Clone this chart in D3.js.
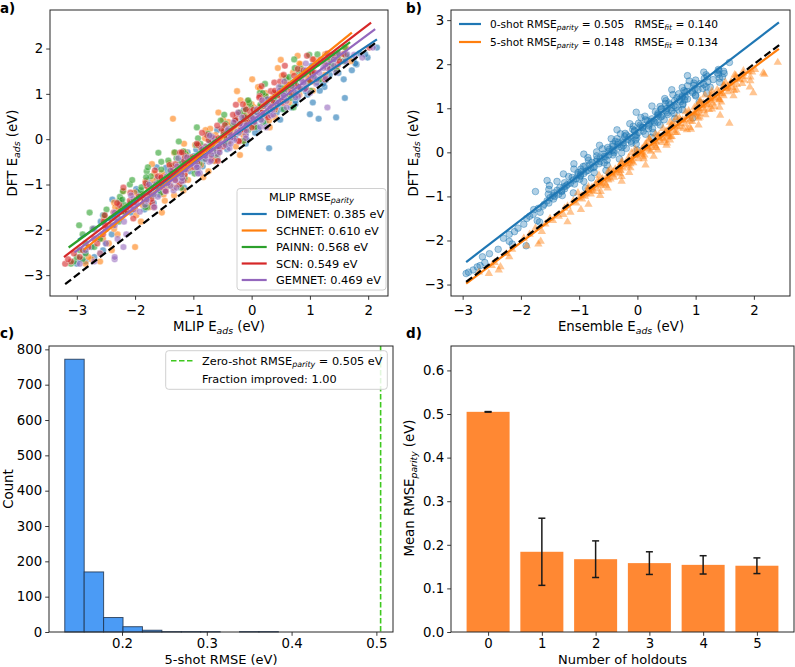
<!DOCTYPE html>
<html><head><meta charset="utf-8">
<script src="https://cdn.jsdelivr.net/npm/d3@7"></script>
<style>body{margin:0;background:#fff} svg text{font-family:"DejaVu Sans",sans-serif}</style>
</head><body>
<svg id="c" width="795" height="667"></svg>
<script>
// ---------------- DATA ----------------
// Panel a: DFT adsorption energies and each MLIP's prediction
const dftA = [-2.75,-2.70,-2.65,-2.60,-2.52,-2.45,-2.38,-2.30,-2.20,-2.10,
-1.98,-1.90,-1.82,-1.75,-1.68,-1.60,-1.55,-1.50,
-1.45,-1.40,-1.36,-1.32,-1.27,-1.22,-1.18,-1.13,-1.10,-1.06,-1.03,-1.00,
-0.97,-0.93,-0.90,-0.86,-0.82,-0.78,-0.75,-0.71,-0.67,-0.63,-0.60,-0.57,-0.53,-0.50,
-0.47,-0.44,-0.40,-0.37,-0.33,-0.30,-0.27,-0.23,-0.20,-0.16,-0.13,-0.09,-0.05,-0.02,
0.02,0.05,0.09,0.12,0.16,0.19,0.23,0.27,0.30,0.34,0.38,0.41,0.45,0.48,
0.52,0.55,0.59,0.62,0.66,0.70,0.73,0.77,0.80,0.84,0.88,0.91,0.95,0.98,
1.02,1.06,1.10,1.15,1.20,1.25,1.30,1.35,1.40,1.46,
1.55,1.65,1.75,1.86,2.02,
-1.62,-1.50,-1.41,-1.33,-1.24,-1.15,-1.07,-0.99,-0.91,-0.84,
-0.76,-0.69,-0.62,-0.55,-0.48,-0.42,-0.35,-0.29,-0.22,-0.16,
-0.10,-0.04,0.02,0.08,0.14,0.20,0.26,0.31,0.37,0.43,
0.48,0.54,0.59,0.65,0.70,0.76,0.81,0.86,0.92,0.97,
1.02,1.07,1.12,1.17,1.22,1.27,1.32,1.37,1.42,1.47,
1.52,1.57,1.62,1.67,1.72,1.76,1.80,1.84,1.87,1.89];
const predDimenet = [-3.0,-2.85,-2.95,-2.7,-2.85,-2.55,-2.75,-2.5,-2.6,-2.4,
-2.70,-2.38,-2.59,-2.29,-2.55,-2.22,-1.84,-2.28,
-2.10,-1.84,-2.24,-1.85,-1.93,-1.58,-1.93,-1.61,-1.98,-1.61,-1.39,-1.68,
-1.47,-1.52,-1.16,-1.62,-1.23,-1.38,-1.45,-1.06,-1.14,-1.47,-0.84,-1.16,-1.01,-0.84,
-1.19,-0.59,-0.92,-0.99,-0.70,-0.57,-0.73,-0.95,0.30,-0.55,-0.67,-0.40,-0.66,-0.08,
-0.42,-0.28,-0.48,-0.10,-0.47,-0.16,0.11,-0.17,0.07,-0.15,0.24,-0.28,1.15,1.45,
0.10,1.00,0.06,0.38,0.51,0.37,0.25,0.75,0.41,0.75,0.56,1.60,0.42,0.96,
0.76,0.93,0.72,1.25,0.75,1.13,1.27,1.07,1.04,1.49,
1.42,1.80,1.75,1.62,2.15,
-2.07,-2.26,-1.68,-2.39,-1.78,-1.97,-1.16,-1.55,-1.79,-1.22,
-1.37,-0.93,-1.63,-0.92,-0.63,-1.07,-0.78,-1.10,-0.42,-0.65,
-0.10,-0.72,-0.29,-0.46,0.06,-0.59,0.08,0.02,-0.18,0.49,
-0.14,0.23,0.43,-0.13,0.68,0.45,1.05,0.36,0.79,0.64,
0.39,1.17,0.93,0.78,1.23,0.74,1.58,1.07,1.34,1.04,
1.72,1.36,1.03,1.78,1.60,1.43,1.99,1.37,1.95,1.85];
const predSchnet = [-2.85,-2.6,-2.75,-2.8,-2.6,-2.4,-2.0,-2.45,-2.55,-2.3,
-2.36,-2.42,-1.90,-2.53,-1.98,-2.19,-2.28,-1.76,
-1.87,-2.36,-1.49,-1.95,-1.76,-1.51,-2.01,-1.17,-1.68,-1.78,-1.42,-1.25,
-1.50,-1.82,-1.09,-1.31,-1.50,-1.15,-1.54,-0.74,-1.24,-1.06,-1.37,-0.87,-1.41,-0.99,
-0.65,-1.07,-0.75,-1.10,-0.58,-1.33,-0.69,-0.76,-0.87,-0.27,-0.97,-0.55,-0.39,-0.62,
-0.80,-0.13,-0.62,-0.17,-0.47,-0.30,-0.71,0.03,-0.28,-0.07,-0.40,0.30,-1.35,0.03,
0.18,-0.15,-0.22,0.34,0.12,0.05,0.33,0.00,0.31,-0.07,0.52,0.36,0.23,0.82,
0.38,-0.25,0.69,0.11,0.61,0.97,0.60,0.96,0.52,0.92,
1.45,0.84,0.50,1.50,1.62,
-1.54,-2.34,-1.77,-2.02,-1.33,-2.20,-1.33,-1.41,-1.69,-0.83,
-1.67,-1.20,-0.94,-1.71,-0.64,-0.98,-0.20,-1.14,-0.59,-0.81,
-1.16,-0.14,-0.48,-0.70,-0.13,-0.79,0.31,-0.40,-0.06,-0.49,
0.40,-0.10,-0.57,0.40,0.13,-0.09,0.64,-0.19,0.58,0.47,
0.24,1.05,0.14,0.70,0.59,1.04,0.01,0.98,1.26,0.71,
1.00,0.45,1.30,0.82,1.70,1.07,1.35,0.79,1.26,1.59];
const predPainn = [-3.1,-3.05,-2.9,-3.0,-2.85,-2.95,-2.7,-2.85,-2.6,-2.9,
-2.73,-2.96,-2.28,-2.41,-2.53,-2.18,-2.49,-1.79,
-2.19,-2.02,-2.27,-1.81,-2.26,-1.88,-1.56,-1.90,-1.63,-1.89,-1.45,-2.09,
-1.53,-1.59,-2.05,-1.15,-1.73,-1.35,-1.22,-1.80,-1.55,-0.95,-1.37,-0.98,-1.23,-1.55,
-1.43,-0.80,-1.04,-0.87,-1.13,-1.60,-1.17,-0.74,-0.61,-0.88,-0.95,-0.45,-1.25,-0.68,
-0.43,-0.71,-0.42,-0.75,-0.23,-0.37,-0.46,0.06,-0.32,-0.45,-0.04,-0.53,-0.11,0.18,
-0.13,0.17,-0.20,0.12,0.55,-0.01,0.17,0.45,-0.04,0.41,0.28,0.67,0.24,0.58,
0.14,0.56,0.83,0.50,0.76,0.70,1.14,0.59,1.05,0.87,
0.85,1.37,1.33,0.99,1.60,
-2.78,-1.82,-2.07,-2.22,-1.68,-2.21,-1.21,-1.79,-1.46,-1.81,
-0.98,-1.40,-1.78,-0.90,-1.10,-1.29,-0.61,-1.32,-0.62,-0.69,
-0.88,-0.14,-0.92,-0.40,-0.48,-0.06,-0.94,-0.09,0.20,-0.27,
-0.01,-0.47,0.29,-0.10,0.72,0.15,0.42,-0.06,0.39,0.73,
0.19,1.01,0.51,0.70,0.23,0.98,1.17,0.64,1.04,0.81,
1.46,0.74,1.32,1.13,1.57,0.73,1.48,1.62,1.13,1.47];
const predScn = [-3.2,-3.1,-3.15,-2.95,-3.05,-2.9,-2.8,-2.65,-2.7,-2.55,
-2.50,-2.51,-2.54,-2.03,-2.52,-2.13,-2.00,-2.14,
-2.27,-1.71,-2.09,-1.72,-1.94,-1.77,-2.08,-1.48,-1.71,-1.54,-1.80,-1.24,
-1.82,-1.43,-1.31,-1.56,-1.61,-1.15,-1.32,-1.36,-1.12,-1.36,-1.11,-1.41,-0.93,-1.06,
-1.16,-0.69,-1.02,-1.15,-0.78,-1.23,-0.85,-0.56,-0.86,-0.58,-0.92,-0.62,-0.22,-0.74,
-0.57,-0.32,-0.77,-0.36,-0.48,-0.12,-0.52,-0.18,-0.59,-0.20,0.04,-0.28,-0.04,-0.12,
0.27,-0.25,0.16,-0.03,-0.10,0.32,0.21,-0.15,0.54,0.18,0.33,0.51,0.14,0.78,
0.40,0.33,0.64,0.80,0.63,0.39,1.00,0.85,0.73,1.03,
0.79,1.48,1.18,1.40,2.02,
-2.37,-1.68,-2.31,-1.84,-1.86,-1.47,-2.20,-1.43,-1.17,-1.55,
-1.29,-1.66,-0.99,-1.31,-0.58,-1.06,-0.81,-1.20,-0.79,-0.49,
-0.94,-0.22,-0.64,-0.46,-0.85,-0.19,0.00,-0.46,-0.10,-0.28,
0.28,-0.32,0.18,0.03,0.41,-0.27,0.38,0.52,0.13,0.45,
0.68,0.40,0.93,0.17,0.73,0.49,1.26,0.83,0.55,1.08,
0.89,1.30,0.57,1.25,1.51,1.05,1.30,0.95,1.58,1.30];
const predGemnet = [-2.95,-2.7,-2.35,-2.35,-2.6,-2.85,-2.2,-2.5,-2.3,-2.15,
-2.72,-2.35,-2.19,-2.35,-2.34,-1.92,-2.03,-2.04,
-1.83,-2.02,-1.80,-2.03,-1.61,-1.68,-1.75,-1.34,-1.62,-1.69,-1.39,-1.76,
-1.44,-1.20,-1.44,-1.19,-1.46,-1.20,-0.89,-1.30,-1.14,-0.92,-1.28,-0.95,-1.03,-0.73,
-1.05,-0.79,-1.11,-0.79,-0.59,-0.85,-0.65,-0.70,-0.38,-0.79,-0.45,-0.58,-0.63,-0.30,
-0.36,-0.68,-0.10,-0.38,-0.25,-0.09,-0.40,0.15,-0.16,-0.20,0.05,0.17,0.03,-0.17,
0.33,0.20,0.09,0.32,0.09,1.30,0.31,0.44,0.26,0.60,0.27,0.56,0.80,0.54,
0.76,0.56,0.92,0.47,0.91,0.89,0.86,1.27,0.85,1.16,
1.34,1.27,1.24,1.76,2.08,
-2.35,-1.67,-1.98,-1.80,-2.07,-1.48,-1.29,-1.64,-1.31,-1.43,
-0.92,-1.39,-0.94,-1.04,-0.70,-1.26,-0.69,-0.55,-0.85,-0.56,
-0.36,-0.56,-0.10,-0.72,-0.22,-0.41,0.25,-0.09,-0.31,0.16,
0.01,0.37,-0.23,0.36,0.60,0.23,0.46,0.18,0.75,0.55,
1.00,0.48,0.84,0.69,1.11,0.56,1.12,1.07,0.90,1.45,
0.93,1.23,1.41,0.93,1.61,1.41,1.90,1.31,1.64,1.49];
const modelNames = ["DIMENET","SCHNET","PAINN","SCN","GEMNET"];
const modelRmse = [0.385,0.610,0.568,0.549,0.469];
// fitted lines: [xStart, yStart, xEnd, yEnd]
const fitLinesA = [[-2.98,-2.22,2.15,2.20],[-2.88,-2.44,1.72,2.35],[-3.14,-2.39,1.69,2.14],[-3.22,-2.60,2.05,2.57],[-3.04,-2.50,2.12,2.43]];
const parityA = [-3.2, 2.15];
const ticksA_x = [-3,-2,-1,0,1,2], ticksA_y = [-3,-2,-1,0,1,2];

// Panel b: ensemble predictions, 0-shot and 5-shot
const dftB = [-2.75,-2.72,-2.67,-2.60,-2.57,-2.50,-2.37,-2.30,-2.20,-2.12,-2.08,-2.02,
-1.95,-1.86,-1.80,-1.72,-1.63,-1.58,-1.55,-1.50,
-1.45,-1.41,-1.36,-1.30,-1.27,-1.22,-1.18,-1.15,-1.10,-1.06,-1.03,-1.00,
-0.98,-0.95,-0.92,-0.89,-0.86,-0.83,-0.80,-0.76,-0.73,-0.70,-0.66,-0.63,-0.60,-0.57,-0.54,-0.51,
-0.48,-0.46,-0.43,-0.41,-0.38,-0.36,-0.33,-0.31,-0.28,-0.26,-0.23,-0.21,-0.18,-0.15,-0.13,-0.10,-0.08,-0.06,-0.04,-0.01,
0.01,0.03,0.05,0.07,0.09,0.11,0.13,0.15,0.17,0.19,0.21,0.23,0.25,0.27,0.29,0.31,0.33,0.35,0.37,0.39,0.41,0.43,0.45,0.48,
0.50,0.52,0.54,0.56,0.58,0.60,0.62,0.64,0.66,0.68,0.70,0.72,0.74,0.76,0.78,0.80,0.82,0.84,0.86,0.88,0.90,0.92,0.94,0.96,0.98,1.00,
1.02,1.04,1.06,1.08,1.10,1.12,1.15,1.17,1.19,1.21,1.24,1.26,1.28,1.30,1.33,1.35,1.38,1.40,1.42,1.44,1.47,1.49,
1.52,1.56,1.60,1.64,1.68,1.72,1.76,1.80,1.84,1.88,2.04,
-0.98,-0.95,-0.92,-0.89,-0.87,-0.84,-0.81,-0.78,-0.75,-0.72,
-0.69,-0.66,-0.64,-0.61,-0.58,-0.55,-0.52,-0.49,-0.46,-0.44,
-0.41,-0.38,-0.35,-0.32,-0.29,-0.26,-0.24,-0.21,-0.18,-0.15,
-0.12,-0.09,-0.06,-0.04,-0.01,0.02,0.05,0.08,0.11,0.14,
0.16,0.19,0.22,0.25,0.28,0.31,0.34,0.36,0.39,0.42,
0.45,0.48,0.51,0.54,0.57,0.59,0.62,0.65,0.68,0.71,
0.74,0.77,0.79,0.82,0.85,0.88,0.91,0.94,0.97,0.99,
1.02,1.05,1.08,1.11,1.14,1.17,1.19,1.22,1.25,1.28,
1.31,1.34,1.37,1.39,1.42,1.45,1.48,1.51,1.54,1.57,
1.59,1.62,1.65,1.68,1.71,1.74,1.77,1.79,1.82,1.85];
const pred0shot = [-2.94,-2.90,-2.82,-2.75,-2.70,-2.62,-2.66,-2.54,-2.39,-1.91,-2.15,-2.20,
-2.30,-2.20,-2.11,-2.05,-1.95,-1.68,-1.72,-1.90,
-1.85,-1.79,-1.67,-1.78,-1.70,-1.62,-1.60,-1.52,-1.55,-1.44,-1.50,-1.42,
-1.45,-1.35,-1.42,-1.30,-1.38,-1.25,-1.33,-1.22,-1.20,-1.15,-1.38,-1.10,-1.05,-1.12,-0.98,-1.02,
-0.92,-1.02,-0.88,-0.85,-0.97,-0.80,-0.74,-0.90,-0.82,-0.66,-0.78,-0.71,-0.52,-0.69,-0.64,-0.55,-0.70,-0.49,-0.58,-0.40,
-0.70,-0.40,-0.43,-0.48,-0.19,-0.51,-0.31,-0.24,-0.34,-0.42,-0.10,-0.33,-0.11,-0.25,-0.16,-0.35,-0.01,-0.14,-0.04,-0.19,0.14,-0.21,0.02,0.10,
-0.05,-0.08,0.19,0.09,0.06,0.20,0.05,0.20,0.02,0.30,0.23,0.17,0.46,0.25,0.95,0.40,0.13,0.36,0.52,0.35,0.51,0.31,0.49,0.71,0.41,0.51,
0.66,0.39,0.63,0.56,0.78,0.54,0.74,0.49,0.72,0.86,0.68,0.82,0.77,1.00,0.71,0.95,0.85,0.80,1.04,0.99,0.77,1.18,
0.97,1.08,1.21,1.00,1.41,1.20,1.18,1.37,1.48,1.39,1.58,
-1.29,-1.53,-1.10,-1.75,-1.30,-1.52,-0.89,-1.26,-1.51,-1.08,
-1.25,-0.92,-1.55,-0.99,-0.79,-1.18,-0.98,-1.27,-0.74,-0.97,
-0.54,-1.09,-0.76,-0.93,-0.52,-1.09,-0.57,-0.64,-0.84,-0.31,
-0.85,-0.57,-0.42,-0.92,-0.27,-0.49,0.00,-0.60,-0.27,-0.42,
-0.65,-0.02,-0.24,-0.38,-0.03,-0.45,0.24,-0.22,-0.02,-0.29,
0.27,-0.05,-0.35,0.26,0.09,-0.07,0.39,-0.13,0.35,0.28,
0.14,0.64,0.06,0.42,0.35,0.63,-0.02,0.59,0.77,0.41,
0.59,0.25,0.78,0.48,1.06,0.64,0.81,0.47,0.77,1.00,
0.61,1.19,0.82,0.94,0.59,1.12,1.25,0.86,1.14,0.97,
1.41,0.89,1.30,1.15,1.46,0.86,1.39,1.49,1.14,1.40];
const pred5shot = [-2.55,-2.72,-2.38,-2.35,-2.50,-2.45,-2.20,-2.25,-2.15,-1.90,-1.70,-1.66,
-1.95,-1.85,-1.64,-1.75,-1.58,-1.20,-1.45,-1.50,
-1.35,-1.27,-1.15,-0.97,-1.25,-1.20,-0.84,-1.05,-1.10,-0.95,-1.00,-0.90,
-0.95,-0.80,-0.88,-0.75,-0.85,-0.70,-0.78,-0.62,-0.72,-0.55,-0.65,-0.50,-0.60,-0.40,-0.52,-0.42,
-0.45,-0.35,-0.50,-0.30,-0.38,-0.25,-0.30,-0.16,-0.25,-0.12,-0.28,-0.10,-0.15,0.02,-0.08,0.10,-0.05,0.12,0.00,0.08,
0.07,0.00,0.20,-0.04,0.17,0.32,0.16,0.31,0.13,0.29,0.51,0.23,0.32,0.46,0.21,0.44,0.37,0.57,0.35,0.53,0.31,0.52,0.65,0.49,
0.62,0.92,0.79,0.90,0.73,0.63,0.59,0.82,1.58,0.56,0.94,0.74,0.82,0.92,0.72,1.07,0.86,1.42,0.99,1.07,0.97,0.83,1.15,1.06,1.28,1.14,
0.98,1.32,1.12,1.20,1.07,1.30,1.07,1.26,1.41,1.24,1.39,1.26,1.48,1.16,1.46,1.99,1.40,1.66,1.37,1.56,1.63,1.55,
1.48,1.80,1.61,1.83,1.72,1.82,1.67,2.16,1.91,2.02,2.41,
-0.64,-0.89,-1.02,-0.63,-0.79,-0.84,-0.51,-0.84,-0.54,-0.60,
-0.67,-0.27,-0.68,-0.46,-0.51,-0.27,-0.66,-0.30,-0.14,-0.41,
-0.29,-0.46,-0.12,-0.31,0.14,-0.20,-0.07,-0.26,-0.10,0.11,
-0.15,0.28,-0.02,0.06,-0.10,0.23,0.35,0.08,0.26,0.16,
0.50,0.15,0.41,0.31,0.56,0.20,0.51,0.59,0.37,0.52,
0.68,0.51,0.85,0.44,0.69,0.57,1.05,0.73,0.63,0.90,
0.78,1.05,0.67,0.99,1.17,0.89,1.01,0.88,1.23,1.05,
1.41,1.02,1.23,1.13,1.44,1.08,1.40,1.34,1.25,1.65,
1.27,1.42,1.56,1.28,1.70,1.52,1.93,1.49,1.71,1.61,
1.51,1.94,1.75,1.69,1.94,1.69,2.18,1.82,1.97,1.82];
const shotNames = ["0-shot","5-shot"];
const rmseParityB = [0.505, 0.148];
const rmseFitB = [0.140, 0.134];
const fitLinesB = [[-2.94,-2.49,2.43,2.95],[-2.94,-2.98,2.43,2.35]];
const parityB = [-2.94, 2.45];
const ticksB_x = [-3,-2,-1,0,1,2], ticksB_y = [-3,-2,-1,0,1,2,3];

// Panel c: histogram of 5-shot RMSE
const histEdges = [0.1325,0.1554,0.1783,0.2012,0.2241,0.2470,0.2699,0.2928,0.3157,0.3386,0.3615,0.3844];
const histCounts = [772,170,41,15,5,1,1,1,0,1,1];
const zeroShotRmse = 0.505;
const fractionImproved = 1.00;
const ticksC_x = [0.2,0.3,0.4,0.5], ticksC_y = [0,100,200,300,400,500,600,700,800];

// Panel d: mean RMSE vs number of holdouts
const holdouts = [0,1,2,3,4,5];
const meanRmse = [0.505,0.184,0.167,0.158,0.154,0.152];
const errRmse = [0.0006,0.077,0.042,0.026,0.021,0.018];
const ticksD_y = [0.0,0.1,0.2,0.3,0.4,0.5,0.6];

// ---------------- DRAW ----------------
const svg = d3.select("#c");
const TFS = 13.3, LFS = 13.3, GFS = 11.3;
const tab = ["#1f77b4","#ff7f0e","#2ca02c","#d62728","#9467bd"];

const A = {x0:50, x1:388, y0:10, y1:296};
const B = {x0:451, x1:790, y0:10, y1:296};
const C = {x0:49, x1:393, y0:346, y1:632};
const D = {x0:451, x1:794, y0:346, y1:632};

const xA = d3.scaleLinear([-3.46,2.34],[A.x0,A.x1]), yA = d3.scaleLinear([-3.46,2.85],[A.y1,A.y0]);
const xB = d3.scaleLinear([-3.20,2.62],[B.x0,B.x1]), yB = d3.scaleLinear([-3.26,3.23],[B.y1,B.y0]);
const xC = d3.scaleLinear([0.1139,0.5196],[C.x0,C.x1]), yC = d3.scaleLinear([0,809.5],[C.y1,C.y0]);
const xD = d3.scaleLinear([-0.69,5.69],[D.x0,D.x1]), yD = d3.scaleLinear([0,0.656],[D.y1,D.y0]);

function rich(g, x, y, segs, o={}) {
  const size = o.size || LFS;
  const t = g.append("text").attr("x",x).attr("y",y).attr("font-size",size)
    .attr("text-anchor",o.anchor||"start").attr("fill","#000").style("white-space","pre");
  if (o.weight) t.attr("font-weight",o.weight);
  if (o.rotate) t.attr("transform",`rotate(-90,${x},${y})`);
  let shifted = false;
  segs.forEach(s => {
    const sub = Array.isArray(s);
    const ts = t.append("tspan").text(sub ? s[0] : s);
    if (sub) { ts.attr("font-size", size*0.7).attr("font-style","italic").attr("dy", size*0.22); shifted = true; }
    else if (shifted) { ts.attr("dy", -size*0.22); shifted = false; }
  });
  return t;
}

function axes(area, x, y, xt, yt, xf, yf, xpad) {
  const g = svg.append("g");
  const style = s => { s.select(".domain").remove();
    s.attr("font-family","DejaVu Sans").attr("font-size",TFS);
    s.selectAll(".tick line").attr("stroke","#222").attr("stroke-width",0.9);
    s.selectAll(".tick text").attr("fill","#000"); };
  g.append("g").attr("transform",`translate(0,${area.y1})`)
    .call(d3.axisBottom(x).tickValues(xt).tickFormat(xf).tickSize(3.8).tickPadding(xpad)).call(style);
  g.append("g").attr("transform",`translate(${area.x0},0)`)
    .call(d3.axisLeft(y).tickValues(yt).tickFormat(yf).tickSize(3.8).tickPadding(3)).call(style);
}
function frame(area) {
  svg.append("rect").attr("x",area.x0).attr("y",area.y0).attr("width",area.x1-area.x0).attr("height",area.y1-area.y0)
    .attr("fill","none").attr("stroke","#262626").attr("stroke-width",1);
}
const fInt = d3.format("d"), f1 = d3.format(".1f"), f3 = d3.format(".3f"), f2 = d3.format(".2f");

// ---- Panel a ----
const preds = [predDimenet, predSchnet, predPainn, predScn, predGemnet];
const gA = svg.append("g");
preds.forEach((p, m) => {
  gA.append("g").selectAll("circle").data(p.map((v,i)=>[v, dftA[i]])).join("circle")
    .attr("cx", d=>xA(d[0])).attr("cy", d=>yA(d[1])).attr("r",3.3)
    .attr("fill", tab[m]).attr("fill-opacity",0.6)
    .attr("stroke","#fff").attr("stroke-width",0.5).attr("stroke-opacity",0.7);
});
fitLinesA.forEach((l,m) => {
  gA.append("line").attr("x1",xA(l[0])).attr("y1",yA(l[1])).attr("x2",xA(l[2])).attr("y2",yA(l[3]))
    .attr("stroke",tab[m]).attr("stroke-width",2.2);
});
gA.append("line").attr("x1",xA(parityA[0])).attr("y1",yA(parityA[0])).attr("x2",xA(parityA[1])).attr("y2",yA(parityA[1]))
  .attr("stroke","#000").attr("stroke-width",2.2).attr("stroke-dasharray","7.5,3.5");
axes(A, xA, yA, ticksA_x, ticksA_y, fInt, fInt, 5.5);
frame(A);
// legend a
const lgA = svg.append("g");
lgA.append("rect").attr("x",237).attr("y",188.5).attr("width",149).attr("height",101.5).attr("rx",3)
  .attr("fill","#fff").attr("fill-opacity",0.85).attr("stroke","#d0d0d0");
rich(lgA, 311.5, 200.5, ["MLIP RMSE",["parity"]], {size:GFS, anchor:"middle"});
modelNames.forEach((n,m) => {
  const cy = 214 + m*16.5;
  lgA.append("line").attr("x1",241.7).attr("x2",266.7).attr("y1",cy).attr("y2",cy).attr("stroke",tab[m]).attr("stroke-width",2.2);
  lgA.append("text").attr("x",276).attr("y",cy+4).attr("font-size",GFS).attr("fill","#000").text(`${n}: ${f3(modelRmse[m])} eV`);
});
rich(svg, 219, 331, ["MLIP E",["ads"]," (eV)"], {anchor:"middle"});
rich(svg, 17, 153, ["DFT E",["ads"]," (eV)"], {anchor:"middle", rotate:true});
rich(svg, 0, 13, ["a)"], {size:13.5, weight:"bold"});

// ---- Panel b ----
const gB = svg.append("g");
gB.append("g").selectAll("circle").data(pred0shot.map((v,i)=>[v, dftB[i]])).join("circle")
  .attr("cx", d=>xB(d[0])).attr("cy", d=>yB(d[1])).attr("r",3.3)
  .attr("fill",tab[0]).attr("fill-opacity",0.35).attr("stroke",tab[0]).attr("stroke-opacity",0.55).attr("stroke-width",0.8);
const tri = d3.symbol(d3.symbolTriangle, 30);
gB.append("g").selectAll("path").data(pred5shot.map((v,i)=>[v, dftB[i]])).join("path")
  .attr("d", tri).attr("transform", d=>`translate(${xB(d[0])},${yB(d[1])})`)
  .attr("fill",tab[1]).attr("fill-opacity",0.45);
fitLinesB.forEach((l,m) => {
  gB.append("line").attr("x1",xB(l[0])).attr("y1",yB(l[1])).attr("x2",xB(l[2])).attr("y2",yB(l[3]))
    .attr("stroke",tab[m]).attr("stroke-width",2.2);
});
gB.append("line").attr("x1",xB(parityB[0])).attr("y1",yB(parityB[0])).attr("x2",xB(parityB[1])).attr("y2",yB(parityB[1]))
  .attr("stroke","#000").attr("stroke-width",2.2).attr("stroke-dasharray","7.5,3.5");
axes(B, xB, yB, ticksB_x, ticksB_y, fInt, fInt, 5.5);
frame(B);
shotNames.forEach((n,m) => {
  const cy = 24 + m*18;
  svg.append("line").attr("x1",459).attr("x2",481).attr("y1",cy).attr("y2",cy).attr("stroke",tab[m]).attr("stroke-width",2.2);
  rich(svg, 490, cy+4, [`${n} RMSE`,["parity"],` = ${f3(rmseParityB[m])}   RMSE`,["fit"],` = ${f3(rmseFitB[m])}`], {size:10.6});
});
rich(svg, 621, 331, ["Ensemble E",["ads"]," (eV)"], {anchor:"middle"});
rich(svg, 417.5, 153, ["DFT E",["ads"]," (eV)"], {anchor:"middle", rotate:true});
rich(svg, 406, 13, ["b)"], {size:13.5, weight:"bold"});

// ---- Panel c ----
const gC = svg.append("g");
gC.selectAll("rect").data(histCounts).join("rect")
  .attr("x",(d,i)=>xC(histEdges[i])).attr("width",(d,i)=>xC(histEdges[i+1])-xC(histEdges[i]))
  .attr("y",d=>yC(d)).attr("height",d=>yC(0)-yC(d))
  .attr("fill","#4b9bf5").attr("stroke","#1c2f4a").attr("stroke-width",1).attr("stroke-opacity",0.8);
gC.append("line").attr("x1",xC(zeroShotRmse)).attr("x2",xC(zeroShotRmse)).attr("y1",C.y0).attr("y2",C.y1)
  .attr("stroke","#3ec81e").attr("stroke-width",1.6).attr("stroke-dasharray","5.5,2.5");
axes(C, xC, yC, ticksC_x, ticksC_y, f1, fInt, 3);
frame(C);
const lgC = svg.append("g");
lgC.append("rect").attr("x",165.7).attr("y",350.7).attr("width",221.6).attr("height",38.6).attr("rx",3)
  .attr("fill","#fff").attr("fill-opacity",0.85).attr("stroke","#d0d0d0");
lgC.append("line").attr("x1",171).attr("x2",193).attr("y1",360.7).attr("y2",360.7)
  .attr("stroke","#3ec81e").attr("stroke-width",1.6).attr("stroke-dasharray","5.5,2.5");
rich(lgC, 202, 365, ["Zero-shot RMSE",["parity"],` = ${f3(zeroShotRmse)} eV`], {size:GFS});
rich(lgC, 202, 383, [`Fraction improved: ${f2(fractionImproved)}`], {size:GFS});
rich(svg, 221, 663.5, ["5-shot RMSE (eV)"], {anchor:"middle", size:13});
rich(svg, 13, 489, ["Count"], {anchor:"middle", rotate:true});
rich(svg, 0, 338, ["c)"], {size:13.5, weight:"bold"});

// ---- Panel d ----
const gD = svg.append("g");
gD.selectAll("rect").data(meanRmse).join("rect")
  .attr("x",(d,i)=>xD(holdouts[i]-0.4)).attr("width",(d,i)=>xD(holdouts[i]+0.4)-xD(holdouts[i]-0.4))
  .attr("y",d=>yD(d)).attr("height",d=>yD(0)-yD(d)).attr("fill","#ff8833");
const eb = gD.append("g").attr("stroke","#1a1a1a").attr("stroke-width",1.5);
meanRmse.forEach((v,i) => {
  const cx = xD(holdouts[i]);
  eb.append("line").attr("x1",cx).attr("x2",cx).attr("y1",yD(v-errRmse[i])).attr("y2",yD(v+errRmse[i]));
  [v-errRmse[i], v+errRmse[i]].forEach(e => eb.append("line").attr("x1",cx-3.5).attr("x2",cx+3.5).attr("y1",yD(e)).attr("y2",yD(e)));
});
axes(D, xD, yD, holdouts, ticksD_y, fInt, f1, 3);
frame(D);
rich(svg, 622.5, 663.5, ["Number of holdouts"], {anchor:"middle", size:13});
rich(svg, 414, 488, ["Mean RMSE",["parity"]," (eV)"], {anchor:"middle", rotate:true});
rich(svg, 406, 338, ["d)"], {size:13.5, weight:"bold"});
</script>
</body></html>
